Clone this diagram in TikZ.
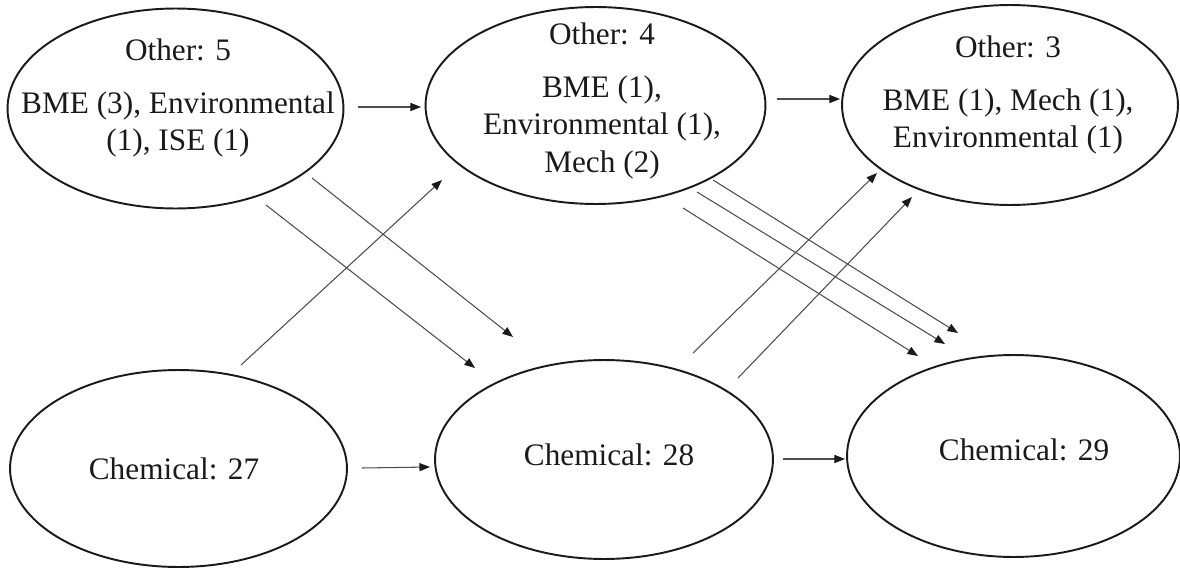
\documentclass[tikz,border=0pt]{standalone}
\usepackage{fontspec}
\setmainfont{Liberation Serif}
\usetikzlibrary{arrows.meta,shapes.geometric}
\definecolor{flwInk}{HTML}{1A1A1A}
\definecolor{flwLine}{HTML}{4D4D4D}
\tikzset{
  flw blob/.style 2 args={ellipse, draw=flwInk, line width=1.1pt, minimum width=#1, minimum height=#2, inner sep=0pt},
  flw text/.style={align=center, text=flwInk, inner sep=0pt, font=\fontsize{17.8pt}{21.3pt}\selectfont},
  flw arrow/.style={draw=flwLine, line width=0.6pt, -{Triangle[length=6pt,width=4.6pt,color=flwInk]}},
}

\begin{document}
\begin{tikzpicture}[x=.02cm,y=-.02cm]
  \useasboundingbox (0,0) rectangle (1180,568);
  % other majors, top row
  \node[flw blob={6.72cm}{4cm}] (oth5) at (175.5,108.5) {};
  \node[flw blob={6.8cm}{3.94cm}] (oth4) at (595.5,105.5) {};
  \node[flw blob={6.72cm}{4cm}] (oth3) at (1010,105) {};
  \node[flw text] (oth5txt) at (178,98) {Other: 5\\[8.8pt]BME (3), Environmental\\(1), ISE (1)};
  \node[flw text] (oth4txt) at (602,101) {Other: 4\\[8.8pt]BME (1),\\Environmental (1),\\Mech (2)};
  \node[flw text] (oth3txt) at (1008,95) {Other: 3\\[8.8pt]BME (1), Mech (1),\\Environmental (1)};
  % chemical, bottom row
  \node[flw blob={6.74cm}{3.94cm}] (chem27) at (178.5,468.5) {};
  \node[flw blob={6.76cm}{3.98cm}] (chem28) at (604,459.5) {};
  \node[flw blob={6.66cm}{4.04cm}] (chem29) at (1013.5,456) {};
  \node[flw text] (chem27txt) at (174,468.5) {Chemical: 27};
  \node[flw text] (chem28txt) at (609,454.5) {Chemical: 28};
  \node[flw text] (chem29txt) at (1024,449.5) {Chemical: 29};
  % transitions
  \foreach \n/\s/\e in {o5o4/{358,107}/{421,107}, o4o3/{777,99}/{840,99},
    c27c28/{362,468}/{430,467}, c28c29/{783,459}/{845,459},
    o5c28a/{312,178}/{513,337}, o5c28b/{266,205}/{475,368}, c27o4/{241,365}/{442,180},
    o4c29a/{713,180}/{958,333}, o4c29b/{697,192}/{945,344}, o4c29c/{683,208}/{918,356},
    c28o3a/{693,353}/{877,173}, c28o3b/{738,378}/{912,197}}{
    \coordinate (\n s) at (\s);
    \coordinate (\n e) at (\e);
    \draw[flw arrow] (\n s) -- (\n e);
  }
\end{tikzpicture}
\end{document}
